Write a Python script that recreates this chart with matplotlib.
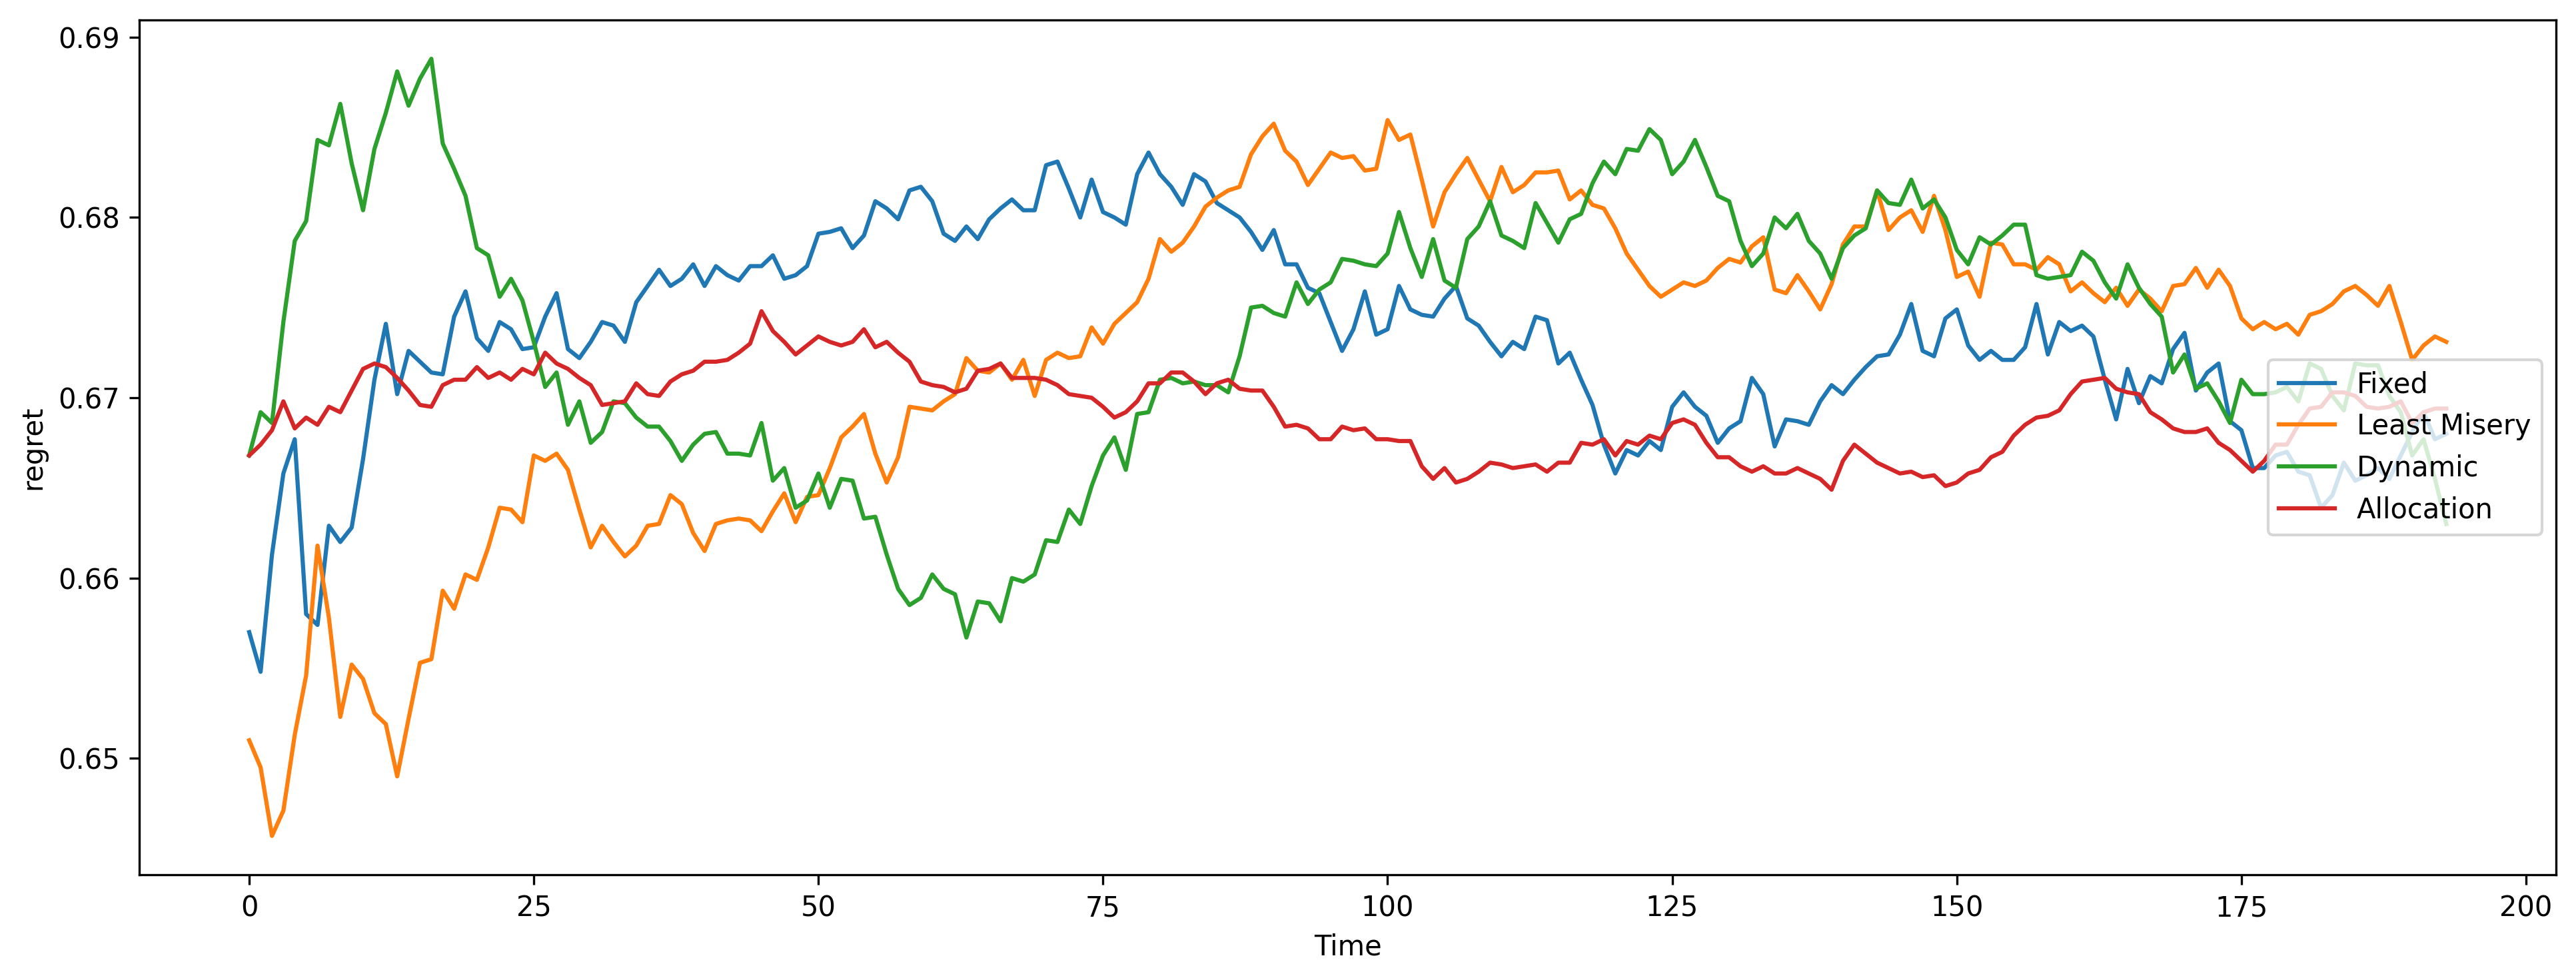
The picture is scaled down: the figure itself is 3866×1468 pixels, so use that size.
import numpy as np
import matplotlib
matplotlib.use("Agg")
import matplotlib.pyplot as plt

# regret values per time step
fixed = [
    0.6570, 0.6548, 0.6613, 0.6658, 0.6677, 0.6580, 0.6574, 0.6629, 0.6620, 0.6628,
    0.6666, 0.6710, 0.6741, 0.6702, 0.6726, 0.6720, 0.6714, 0.6713, 0.6745, 0.6759,
    0.6733, 0.6726, 0.6742, 0.6738, 0.6727, 0.6728, 0.6745, 0.6758, 0.6727, 0.6722,
    0.6731, 0.6742, 0.6740, 0.6731, 0.6753, 0.6762, 0.6771, 0.6762, 0.6766, 0.6774,
    0.6762, 0.6773, 0.6768, 0.6765, 0.6773, 0.6773, 0.6779, 0.6766, 0.6768, 0.6773,
    0.6791, 0.6792, 0.6794, 0.6783, 0.6790, 0.6809, 0.6805, 0.6799, 0.6815, 0.6817,
    0.6809, 0.6791, 0.6787, 0.6795, 0.6788, 0.6799, 0.6805, 0.6810, 0.6804, 0.6804,
    0.6829, 0.6831, 0.6816, 0.6800, 0.6821, 0.6803, 0.6800, 0.6796, 0.6824, 0.6836,
    0.6824, 0.6817, 0.6807, 0.6824, 0.6820, 0.6808, 0.6804, 0.6800, 0.6792, 0.6782,
    0.6793, 0.6774, 0.6774, 0.6761, 0.6758, 0.6742, 0.6726, 0.6738, 0.6759, 0.6735,
    0.6738, 0.6762, 0.6749, 0.6746, 0.6745, 0.6755, 0.6762, 0.6744, 0.6740, 0.6731,
    0.6723, 0.6731, 0.6727, 0.6745, 0.6743, 0.6719, 0.6725, 0.6710, 0.6696, 0.6674,
    0.6658, 0.6671, 0.6668, 0.6676, 0.6671, 0.6695, 0.6703, 0.6695, 0.6690, 0.6675,
    0.6683, 0.6687, 0.6711, 0.6702, 0.6673, 0.6688, 0.6687, 0.6685, 0.6698, 0.6707,
    0.6702, 0.6710, 0.6717, 0.6723, 0.6724, 0.6735, 0.6752, 0.6726, 0.6723, 0.6744,
    0.6749, 0.6729, 0.6721, 0.6726, 0.6721, 0.6721, 0.6728, 0.6752, 0.6724, 0.6742,
    0.6737, 0.6740, 0.6734, 0.6710, 0.6688, 0.6716, 0.6697, 0.6712, 0.6708, 0.6727,
    0.6736, 0.6704, 0.6714, 0.6719, 0.6687, 0.6682, 0.6661, 0.6661, 0.6668, 0.6670,
    0.6659, 0.6657, 0.6639, 0.6646, 0.6664, 0.6654, 0.6657, 0.6661, 0.6655, 0.6668,
    0.6681, 0.6692, 0.6677, 0.6680,
]

least_misery = [
    0.6510, 0.6495, 0.6457, 0.6471, 0.6513, 0.6546, 0.6618, 0.6578, 0.6523, 0.6552,
    0.6544, 0.6525, 0.6519, 0.6490, 0.6522, 0.6553, 0.6555, 0.6593, 0.6583, 0.6602,
    0.6599, 0.6617, 0.6639, 0.6638, 0.6631, 0.6668, 0.6665, 0.6669, 0.6660, 0.6638,
    0.6617, 0.6629, 0.6620, 0.6612, 0.6618, 0.6629, 0.6630, 0.6646, 0.6641, 0.6625,
    0.6615, 0.6630, 0.6632, 0.6633, 0.6632, 0.6626, 0.6637, 0.6647, 0.6631, 0.6645,
    0.6646, 0.6661, 0.6678, 0.6684, 0.6691, 0.6669, 0.6653, 0.6667, 0.6695, 0.6694,
    0.6693, 0.6698, 0.6702, 0.6722, 0.6715, 0.6714, 0.6719, 0.6710, 0.6721, 0.6701,
    0.6721, 0.6725, 0.6722, 0.6723, 0.6739, 0.6730, 0.6741, 0.6747, 0.6753, 0.6766,
    0.6788, 0.6781, 0.6786, 0.6795, 0.6806, 0.6811, 0.6815, 0.6817, 0.6835, 0.6845,
    0.6852, 0.6837, 0.6831, 0.6818, 0.6827, 0.6836, 0.6833, 0.6834, 0.6826, 0.6827,
    0.6854, 0.6843, 0.6846, 0.6821, 0.6795, 0.6814, 0.6824, 0.6833, 0.6821, 0.6809,
    0.6828, 0.6814, 0.6818, 0.6825, 0.6825, 0.6826, 0.6810, 0.6815, 0.6807, 0.6805,
    0.6794, 0.6780, 0.6771, 0.6762, 0.6756, 0.6760, 0.6764, 0.6762, 0.6765, 0.6772,
    0.6777, 0.6775, 0.6784, 0.6789, 0.6760, 0.6758, 0.6768, 0.6759, 0.6749, 0.6763,
    0.6785, 0.6795, 0.6795, 0.6815, 0.6793, 0.6800, 0.6804, 0.6792, 0.6812, 0.6793,
    0.6767, 0.6770, 0.6756, 0.6786, 0.6785, 0.6774, 0.6774, 0.6771, 0.6778, 0.6774,
    0.6759, 0.6764, 0.6758, 0.6753, 0.6761, 0.6751, 0.6760, 0.6755, 0.6748, 0.6762,
    0.6763, 0.6772, 0.6761, 0.6771, 0.6762, 0.6744, 0.6738, 0.6742, 0.6738, 0.6741,
    0.6735, 0.6746, 0.6748, 0.6752, 0.6759, 0.6762, 0.6757, 0.6751, 0.6762, 0.6742,
    0.6721, 0.6729, 0.6734, 0.6731,
]

dynamic = [
    0.6668, 0.6692, 0.6686, 0.6742, 0.6787, 0.6798, 0.6843, 0.6840, 0.6863, 0.6830,
    0.6804, 0.6838, 0.6858, 0.6881, 0.6862, 0.6877, 0.6888, 0.6841, 0.6827, 0.6812,
    0.6783, 0.6779, 0.6756, 0.6766, 0.6754, 0.6731, 0.6706, 0.6714, 0.6685, 0.6698,
    0.6675, 0.6681, 0.6698, 0.6697, 0.6689, 0.6684, 0.6684, 0.6676, 0.6665, 0.6674,
    0.6680, 0.6681, 0.6669, 0.6669, 0.6668, 0.6686, 0.6654, 0.6661, 0.6639, 0.6643,
    0.6658, 0.6639, 0.6655, 0.6654, 0.6633, 0.6634, 0.6613, 0.6594, 0.6585, 0.6589,
    0.6602, 0.6594, 0.6591, 0.6567, 0.6587, 0.6586, 0.6576, 0.6600, 0.6598, 0.6602,
    0.6621, 0.6620, 0.6638, 0.6630, 0.6651, 0.6668, 0.6678, 0.6660, 0.6691, 0.6692,
    0.6710, 0.6711, 0.6708, 0.6709, 0.6707, 0.6707, 0.6703, 0.6723, 0.6750, 0.6751,
    0.6747, 0.6745, 0.6764, 0.6752, 0.6760, 0.6764, 0.6777, 0.6776, 0.6774, 0.6773,
    0.6780, 0.6803, 0.6783, 0.6767, 0.6788, 0.6765, 0.6761, 0.6788, 0.6795, 0.6809,
    0.6790, 0.6787, 0.6783, 0.6808, 0.6797, 0.6786, 0.6799, 0.6802, 0.6819, 0.6831,
    0.6824, 0.6838, 0.6837, 0.6849, 0.6843, 0.6824, 0.6831, 0.6843, 0.6828, 0.6812,
    0.6809, 0.6787, 0.6773, 0.6780, 0.6800, 0.6794, 0.6802, 0.6787, 0.6780, 0.6766,
    0.6783, 0.6790, 0.6794, 0.6815, 0.6808, 0.6807, 0.6821, 0.6805, 0.6810, 0.6800,
    0.6782, 0.6774, 0.6789, 0.6785, 0.6790, 0.6796, 0.6796, 0.6768, 0.6766, 0.6767,
    0.6768, 0.6781, 0.6776, 0.6764, 0.6755, 0.6774, 0.6761, 0.6752, 0.6745, 0.6714,
    0.6724, 0.6705, 0.6708, 0.6698, 0.6686, 0.6710, 0.6702, 0.6702, 0.6703, 0.6706,
    0.6698, 0.6719, 0.6716, 0.6701, 0.6693, 0.6719, 0.6718, 0.6718, 0.6701, 0.6692,
    0.6668, 0.6677, 0.6655, 0.6630,
]

allocation = [
    0.6668, 0.6674, 0.6682, 0.6698, 0.6683, 0.6689, 0.6685, 0.6695, 0.6692, 0.6704,
    0.6716, 0.6719, 0.6717, 0.6711, 0.6704, 0.6696, 0.6695, 0.6707, 0.6710, 0.6710,
    0.6717, 0.6711, 0.6714, 0.6710, 0.6716, 0.6713, 0.6725, 0.6719, 0.6716, 0.6711,
    0.6707, 0.6696, 0.6697, 0.6698, 0.6708, 0.6702, 0.6701, 0.6709, 0.6713, 0.6715,
    0.6720, 0.6720, 0.6721, 0.6725, 0.6730, 0.6748, 0.6737, 0.6731, 0.6724, 0.6729,
    0.6734, 0.6731, 0.6729, 0.6731, 0.6738, 0.6728, 0.6731, 0.6725, 0.6720, 0.6709,
    0.6707, 0.6706, 0.6703, 0.6705, 0.6715, 0.6716, 0.6719, 0.6711, 0.6711, 0.6711,
    0.6710, 0.6707, 0.6702, 0.6701, 0.6700, 0.6695, 0.6689, 0.6692, 0.6698, 0.6708,
    0.6708, 0.6714, 0.6714, 0.6709, 0.6702, 0.6708, 0.6710, 0.6705, 0.6704, 0.6704,
    0.6695, 0.6684, 0.6685, 0.6683, 0.6677, 0.6677, 0.6684, 0.6682, 0.6683, 0.6677,
    0.6677, 0.6676, 0.6676, 0.6662, 0.6655, 0.6661, 0.6653, 0.6655, 0.6659, 0.6664,
    0.6663, 0.6661, 0.6662, 0.6663, 0.6659, 0.6664, 0.6664, 0.6675, 0.6674, 0.6677,
    0.6668, 0.6676, 0.6674, 0.6679, 0.6677, 0.6686, 0.6688, 0.6685, 0.6675, 0.6667,
    0.6667, 0.6662, 0.6659, 0.6662, 0.6658, 0.6658, 0.6661, 0.6658, 0.6655, 0.6649,
    0.6665, 0.6674, 0.6669, 0.6664, 0.6661, 0.6658, 0.6659, 0.6656, 0.6657, 0.6651,
    0.6653, 0.6658, 0.6660, 0.6667, 0.6670, 0.6679, 0.6685, 0.6689, 0.6690, 0.6693,
    0.6702, 0.6709, 0.6710, 0.6711, 0.6705, 0.6703, 0.6702, 0.6692, 0.6688, 0.6683,
    0.6681, 0.6681, 0.6683, 0.6675, 0.6671, 0.6665, 0.6659, 0.6665, 0.6674, 0.6674,
    0.6685, 0.6694, 0.6695, 0.6703, 0.6703, 0.6701, 0.6695, 0.6694, 0.6695, 0.6698,
    0.6686, 0.6692, 0.6694, 0.6694,
]

labels = ["Fixed", "Least Misery", "Dynamic", "Allocation"]

time = np.arange(len(fixed))

fig = plt.figure(figsize=(3866 / 300, 1468 / 300), dpi=300)
ax = fig.add_axes([0.0541, 0.1056, 0.9382, 0.874])

for series, name in zip([fixed, least_misery, dynamic, allocation], labels):
    ax.plot(time, series, label=name)

ax.set_xlabel("Time")
ax.set_ylabel("regret")
ax.legend(loc="center right")

fig.savefig("out.png", dpi=300)
